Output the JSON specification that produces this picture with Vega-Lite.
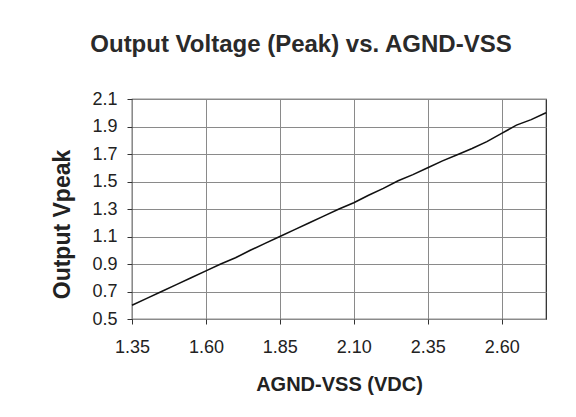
{
  "$schema": "https://vega.github.io/schema/vega-lite/v6.json",
  "width": 414,
  "height": 220,
  "autosize": "none",
  "padding": {"left": 132, "top": 99, "right": 30, "bottom": 98},
  "background": "white",
  "config": {
    "font": "Liberation Sans",
    "view": {"stroke": "#222", "strokeWidth": 1.2}
  },
  "title": {
    "text": "Output Voltage (Peak) vs. AGND-VSS",
    "fontSize": 24,
    "fontWeight": "bold",
    "color": "#2a2a2a",
    "anchor": "middle",
    "dx": -38,
    "baseline": "alphabetic",
    "offset": 14
  },
  "data": {
    "values": [
      {"x": 1.35, "y": 0.60},
      {"x": 1.40, "y": 0.65},
      {"x": 1.45, "y": 0.70},
      {"x": 1.50, "y": 0.75},
      {"x": 1.55, "y": 0.80},
      {"x": 1.60, "y": 0.85},
      {"x": 1.65, "y": 0.90},
      {"x": 1.70, "y": 0.945},
      {"x": 1.75, "y": 1.00},
      {"x": 1.80, "y": 1.05},
      {"x": 1.85, "y": 1.10},
      {"x": 1.90, "y": 1.15},
      {"x": 1.95, "y": 1.20},
      {"x": 2.00, "y": 1.25},
      {"x": 2.05, "y": 1.30},
      {"x": 2.10, "y": 1.345},
      {"x": 2.15, "y": 1.40},
      {"x": 2.20, "y": 1.45},
      {"x": 2.25, "y": 1.505},
      {"x": 2.30, "y": 1.55},
      {"x": 2.35, "y": 1.60},
      {"x": 2.40, "y": 1.65},
      {"x": 2.45, "y": 1.695},
      {"x": 2.50, "y": 1.74},
      {"x": 2.55, "y": 1.79},
      {"x": 2.60, "y": 1.85},
      {"x": 2.65, "y": 1.91},
      {"x": 2.70, "y": 1.95},
      {"x": 2.75, "y": 2.00}
    ]
  },
  "mark": {"type": "line", "color": "#111", "strokeWidth": 1.6},
  "encoding": {
    "x": {
      "field": "x",
      "type": "quantitative",
      "scale": {"domain": [1.35, 2.75], "nice": false, "zero": false},
      "axis": {
        "title": "AGND-VSS (VDC)",
        "values": [1.35, 1.6, 1.85, 2.1, 2.35, 2.6],
        "format": ".2f",
        "domain": false,
        "tickSize": 5,
        "tickColor": "#333",
        "labelPadding": 14,
        "labelFontSize": 18,
        "labelColor": "#222",
        "labelFlush": false,
        "gridColor": "#8a8a8a",
        "gridOpacity": 1,
        "titleFontSize": 20,
        "titleFontWeight": "bold",
        "titleColor": "#222",
        "titlePadding": 18
      }
    },
    "y": {
      "field": "y",
      "type": "quantitative",
      "scale": {"domain": [0.5, 2.1], "nice": false, "zero": false},
      "axis": {
        "title": "Output Vpeak",
        "values": [0.5, 0.7, 0.9, 1.1, 1.3, 1.5, 1.7, 1.9, 2.1],
        "format": ".1f",
        "domain": false,
        "tickSize": 5,
        "tickColor": "#333",
        "labelPadding": 10,
        "labelFontSize": 18,
        "labelColor": "#222",
        "labelFlush": false,
        "gridColor": "#8a8a8a",
        "gridOpacity": 1,
        "titleFontSize": 23,
        "titleFontWeight": "bold",
        "titleColor": "#222",
        "titlePadding": 17,
        "titleY": 125
      }
    }
  }
}
